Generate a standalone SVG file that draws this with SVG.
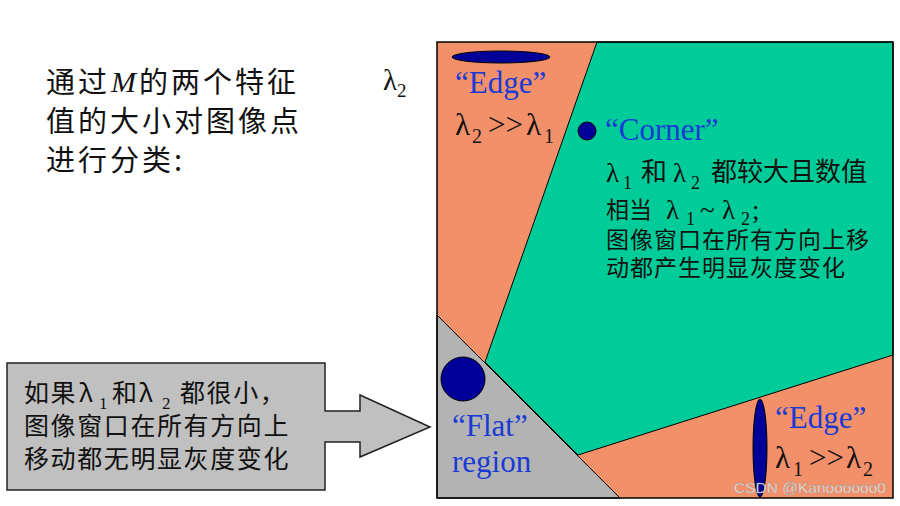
<svg xmlns="http://www.w3.org/2000/svg" width="900" height="506" viewBox="0 0 900 506">
<defs>
<style>
.cjk{font-family:"Noto Sans CJK SC","Noto Sans",sans-serif;fill:#111}
.ser{font-family:"Liberation Serif","Times New Roman",serif;fill:#111}
.blue{font-family:"Liberation Serif","Times New Roman",serif;fill:#1a3ad6;font-size:31px}
.reg{stroke:#000;stroke-width:1}
.dot{fill:#000099;stroke:#000;stroke-width:1}
</style>
</defs>
<rect width="900" height="506" fill="#fff"/>

<g id="intro">
<text class="cjk" font-size="29" letter-spacing="3"><tspan x="46" y="93">通过</tspan><tspan x="139" y="93">的两个特征</tspan><tspan x="46" y="132">值的大小对图像点</tspan><tspan x="46" y="171">进行分类:</tspan></text>
<text class="ser" font-size="30" font-style="italic" x="111" y="92">M</text>
</g>

<g id="axis-label">
<text class="ser" font-size="29" x="383" y="90">λ<tspan font-size="19" dy="7">2</tspan></text>
</g>

<g id="plot">
<rect x="437" y="42" width="456" height="456" fill="#f2906a" stroke="none"/>
<polygon id="corner-region" class="reg" points="597,42 893,42 893,355 578,455 485,362" fill="#00cc99"/>
<polygon id="flat-region" class="reg" points="437,315 620,498 437,498" fill="#b3b3b3"/>
<rect x="437" y="42" width="456" height="456" fill="none" stroke="#000" stroke-width="1.5"/>
</g>

<g id="edge-top">
<ellipse class="dot" cx="501" cy="57" rx="49" ry="6"/>
<text class="blue" x="455" y="93">“Edge”</text>
<text class="ser" font-size="31" y="135"><tspan x="455">λ</tspan><tspan x="472" y="143" font-size="20">2</tspan><tspan x="488" y="135">&gt;&gt;</tspan><tspan x="526">λ</tspan><tspan x="544" y="143" font-size="20">1</tspan></text>
</g>

<g id="corner">
<circle class="dot" cx="587" cy="131" r="9"/>
<text class="blue" x="605" y="140">“Corner”</text>
<text class="ser" font-size="27" y="182"><tspan x="606">λ</tspan><tspan x="623" y="189" font-size="18">1</tspan><tspan x="673" y="182">λ</tspan><tspan x="691" y="189" font-size="18">2</tspan></text>
<text class="cjk" font-size="26" y="181"><tspan x="641">和</tspan><tspan x="711">都较大且数值</tspan></text>
<text class="cjk" font-size="23" x="606" y="218">相当</text>
<text class="ser" font-size="27" y="219"><tspan x="666">λ</tspan><tspan x="686" y="225" font-size="18">1</tspan><tspan x="700" y="219">~</tspan><tspan x="722">λ</tspan><tspan x="741" y="225" font-size="18">2</tspan><tspan x="752" y="219">;</tspan></text>
<text class="cjk" font-size="23" letter-spacing="1"><tspan x="606" y="248">图像窗口在所有方向上移</tspan><tspan x="606" y="276">动都产生明显灰度变化</tspan></text>
</g>

<g id="flat">
<circle class="dot" cx="463" cy="379" r="22"/>
<text class="blue" x="452" y="436">“Flat”</text>
<text class="blue" x="452" y="472">region</text>
</g>

<g id="edge-bottom">
<ellipse class="dot" cx="760" cy="448" rx="7" ry="49"/>
<text class="blue" x="775" y="428">“Edge”</text>
<text class="ser" font-size="31" y="468"><tspan x="775">λ</tspan><tspan x="793" y="476" font-size="20">1</tspan><tspan x="809" y="468">&gt;&gt;</tspan><tspan x="846">λ</tspan><tspan x="863" y="476" font-size="20">2</tspan></text>
</g>

<g id="callout">
<path d="M7,363 H325 V411 H360 V395 L430,427 L360,457 V442 H325 V490 H7 Z" fill="#c0c0c0" stroke="#222" stroke-width="1.5"/>
<text class="cjk" font-size="25" letter-spacing="1.6"><tspan x="24" y="402">如果</tspan><tspan x="112" y="402">和</tspan><tspan x="180" y="402">都很小，</tspan><tspan x="24" y="435">图像窗口在所有方向上</tspan><tspan x="24" y="468">移动都无明显灰度变化</tspan></text>
<text class="cjk" font-size="25"><tspan x="79" y="402">λ</tspan><tspan x="139" y="402">λ</tspan></text>
<text class="ser" font-size="17"><tspan x="99" y="409">1</tspan><tspan x="162" y="409">2</tspan></text>
</g>

<text x="734" y="493" font-family="Liberation Sans, Arial, sans-serif" font-size="15.5" fill="#f4f4f4" fill-opacity="0.9" stroke="#888" stroke-width="0.3">CSDN @Kanoooooo0</text>
</svg>
